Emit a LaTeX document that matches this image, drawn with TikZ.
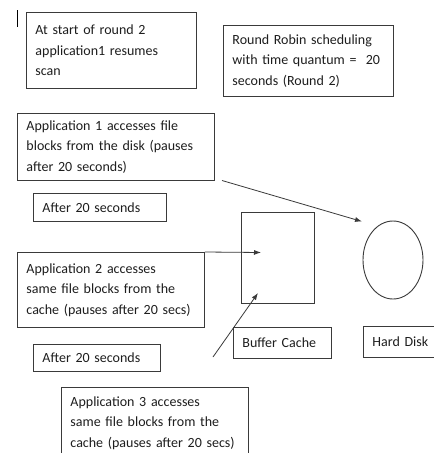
\documentclass[tikz,border=0pt]{standalone}
\usepackage{fontspec}
\setmainfont{Carlito}
\usetikzlibrary{arrows.meta,shapes.geometric}
\definecolor{ink}{HTML}{1E1E1E}
\definecolor{rule}{HTML}{3A3A3A}
\begin{document}
\begin{tikzpicture}[x=1pt,y=-1pt,
  note/.style={draw=rule, line width=0.9pt, anchor=north west, align=left,
    inner xsep=9pt, inner ysep=0pt, text=ink,
    font=\fontsize{14}{20.5}\selectfont},
  link/.style={draw=rule, line width=0.8pt, -{Latex[length=7pt,width=5pt]}}]
\useasboundingbox (0,0) rectangle (434,453);
\clip (0,0) rectangle (434,453);
\fill[white] (0,0) rectangle (434,453);

% text cursor mark in the corner
\draw[line width=1.8pt, black] (17.5,10) -- (17.5,27);

% notes
\node[note, minimum width=170pt, minimum height=76pt, text width=152pt] (start) at (26,12)
  {At start of round 2\\application1 resumes\\scan};
\node[note, minimum width=170pt, minimum height=71pt, text width=152pt] (rr) at (223,25)
  {Round Robin scheduling\\with time quantum =\ \ 20\\seconds (Round 2)};
\node[note, minimum width=197pt, minimum height=67pt, text width=179pt] (app1) at (17,113)
  {Application 1 accesses file\\blocks from the disk (pauses\\after 20 seconds)};
\node[note, minimum width=133pt, minimum height=28pt, text width=115pt] (wait1) at (33,193)
  {After 20 seconds};
\node[note, minimum width=187pt, minimum height=75pt, text width=169pt] (app2) at (17,252)
  {Application 2 accesses\\same file blocks from the\\cache (pauses after 20 secs)};
\node[note, minimum width=127pt, minimum height=27pt, text width=109pt] (wait2) at (33,344)
  {After 20 seconds};
% this note's frame is open at the lower edge of the page
\node[note, draw=none, minimum width=187pt, text width=169pt, inner ysep=9pt] (app3) at (61,387)
  {Application 3 accesses\\same file blocks from the\\cache (pauses after 20 secs)};
\draw[draw=rule, line width=0.9pt] (app3.north west) ++(0,80) -- (app3.north west)
  -- (app3.north east) -- ++(0,80);

% buffer cache and hard disk
\node[draw=rule, line width=0.9pt, anchor=north west, minimum width=73pt, minimum height=91pt, inner sep=0pt] (cache) at (241,212) {};
\node[draw=rule, line width=0.9pt, ellipse, minimum width=60pt, minimum height=78pt, inner sep=0pt] (disk) at (393,260) {};
\node[note, minimum width=98pt, minimum height=31pt, text width=80pt] (cachelbl) at (233,327) {Buffer Cache};
\node[note, minimum width=80pt, minimum height=31pt, text width=62pt] (disklbl) at (363,326) {Hard Disk};

% connectors
\coordinate (a1s) at (222,180.5);
\coordinate (a1e) at (362,221.5);
\coordinate (a2e) at (261,252.5);
\coordinate (a3s) at (213,357);
\coordinate (a3e) at (258,293);
\draw[link] (a1s) -- (a1e);
\draw[link] (app2.north east) -- (a2e);
\draw[link] (a3s) -- (a3e);
\end{tikzpicture}
\end{document}
